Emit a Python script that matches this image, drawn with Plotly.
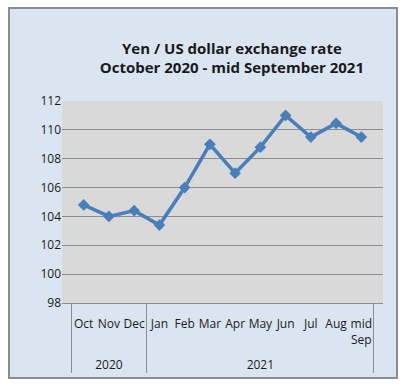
import plotly.graph_objects as go

years = ["2020"] * 3 + ["2021"] * 9
months = ["Oct", "Nov", "Dec", "Jan", "Feb", "Mar", "Apr", "May", "Jun", "Jul", "Aug", "mid<br>Sep"]
rates = [104.8, 104.0, 104.4, 103.4, 106.0, 109.0, 107.0, 108.8, 111.0, 109.5, 110.45, 109.5]
y_ticks = [98, 100, 102, 104, 106, 108, 110, 112]

FONT = "Open Sans"
BLUE_BG = "#DBE5F1"

year_labels = ["<br>" + y for y in years]

fig = go.Figure()
fig.add_trace(go.Scatter(
    x=[year_labels, months], y=rates, mode="lines+markers",
    line=dict(color="#4A7EBB", width=3.5),
    marker=dict(symbol="diamond", size=9, color="#4A7EBB"),
    showlegend=False,
))

fig.update_layout(
    width=409, height=389,
    margin=dict(l=62, r=26, t=101, b=86),
    paper_bgcolor="white",
    plot_bgcolor="rgba(0,0,0,0)",
    font=dict(family=FONT, size=12, color="#1a1a1a"),
    title=dict(
        text="<b>Yen / US dollar exchange rate<br>October 2020 - mid September 2021</b>",
        x=0.567, xanchor="center", y=0.862, yanchor="middle",
        font=dict(family=FONT, size=15, color="#1a1a1a"),
    ),
    xaxis=dict(
        type="multicategory", showgrid=False, tickangle=0, automargin=False,
        showline=True, linecolor="#8C8C8C", linewidth=1,
        showdividers=True, dividercolor="#8C8C8C", dividerwidth=1,
        ticks="", tickfont=dict(size=12), ticklabelstandoff=10,
    ),
    yaxis=dict(
        range=[98, 112], tickvals=y_ticks, ticktext=[str(v) for v in y_ticks],
        showgrid=True, gridcolor="#8C8C8C", gridwidth=1,
        zeroline=False, showline=False, ticks="", ticklen=0,
        tickfont=dict(size=12),
    ),
    shapes=[
        dict(type="rect", xref="paper", yref="paper", layer="below",
             x0=-53 / 321, x1=335 / 321, y0=-75 / 202, y1=295 / 202,
             fillcolor=BLUE_BG, line=dict(color="#8C8C8C", width=2)),
        dict(type="rect", xref="paper", yref="paper", layer="below",
             x0=0, x1=1, y0=0, y1=1, fillcolor="#D9D9D9", line=dict(width=0)),
    ],
)

fig.write_html("out.html")
